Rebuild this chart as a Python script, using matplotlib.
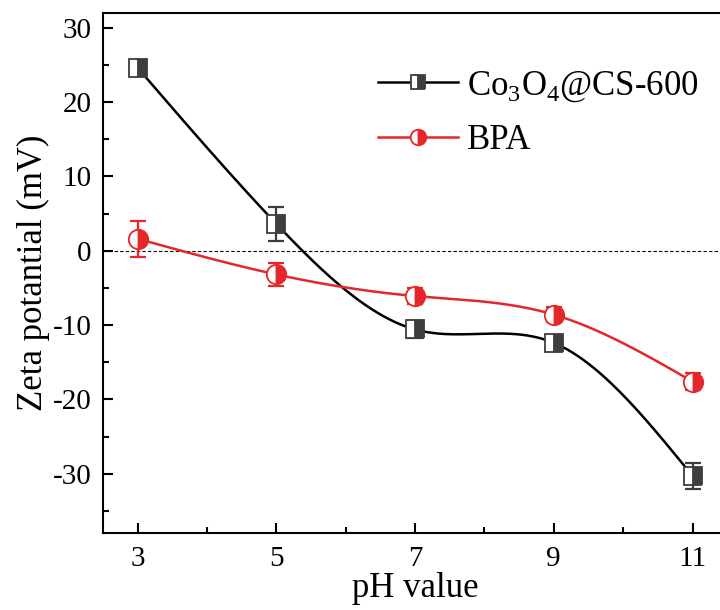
import numpy as np
import matplotlib
matplotlib.use("Agg")
import matplotlib.pyplot as plt
from matplotlib.lines import Line2D

plt.rcParams['font.family'] = ['Liberation Serif', 'DejaVu Serif']
plt.rcParams['mathtext.fontset'] = 'custom'
plt.rcParams['mathtext.rm'] = 'Liberation Serif'
plt.rcParams['axes.unicode_minus'] = False

ph = np.array([3, 5, 7, 9, 11])
co_zeta = np.array([24.6, 3.6, -10.6, -12.4, -30.3])
co_err = np.array([1.0, 2.3, 1.1, 0.8, 1.7])
bpa_zeta = np.array([1.6, -3.2, -6.1, -8.6, -17.6])
bpa_err = np.array([2.4, 1.6, 1.1, 1.0, 1.2])

labels = [r'Co$_3$O$_4$@CS-600', 'BPA']
dark = '#3d3d3d'
red = '#e5262b'


def spline(x, y, n=200):
    # natural cubic spline, like Origin's spline connector
    x = x.astype(float)
    h = np.diff(x)
    m = len(x)
    A = np.zeros((m, m))
    b = np.zeros(m)
    A[0, 0] = A[-1, -1] = 1
    for i in range(1, m - 1):
        A[i, i - 1] = h[i - 1]
        A[i, i] = 2 * (h[i - 1] + h[i])
        A[i, i + 1] = h[i]
        b[i] = 6 * ((y[i + 1] - y[i]) / h[i] - (y[i] - y[i - 1]) / h[i - 1])
    M = np.linalg.solve(A, b)
    xs = np.linspace(x[0], x[-1], n)
    k = np.clip(np.searchsorted(x, xs) - 1, 0, m - 2)
    t1 = x[k + 1] - xs
    t0 = xs - x[k]
    hk = h[k]
    ys = (M[k] * t1**3 + M[k + 1] * t0**3) / (6 * hk) \
        + (y[k] / hk - M[k] * hk / 6) * t1 + (y[k + 1] / hk - M[k + 1] * hk / 6) * t0
    return xs, ys


fig = plt.figure(figsize=(7.2, 6.1), dpi=100)
ax = fig.add_axes([0.143, 0.126, 0.867, 0.853])

ax.axhline(0, color='black', lw=0.8, ls=(0, (3, 2)), zorder=1)

series = [(co_zeta, co_err, 'black', dark, 's', 13), (bpa_zeta, bpa_err, red, red, 'o', 14)]
handles = []
for (yv, ye, lc, mc, mk, ms), lab in zip(series, labels):
    xs, ys = spline(ph, yv)
    ax.plot(xs, ys, color=lc, lw=1.8, zorder=2)
    ax.errorbar(ph, yv, yerr=ye, fmt='none', ecolor=mc, elinewidth=1.6,
                capsize=6, capthick=1.6, zorder=3)
    ax.plot(ph, yv, ls='none', marker=mk, ms=ms, mec=mc, mfc=mc,
            mfcalt='white', fillstyle='right', mew=1.3, zorder=4)
    handles.append(Line2D([], [], color=lc, lw=1.8, marker=mk, ms=ms * 0.8,
                          mec=mc, mfc=mc, mfcalt='white', fillstyle='right', mew=1.3))

ax.legend(handles, labels, loc='upper left', bbox_to_anchor=(0.39, 0.952),
          frameon=False, fontsize=25, handlelength=2.3, handletextpad=0.26,
          labelspacing=0.58)

ax.set_xlim(2.5, 11.5)
ax.set_ylim(-38, 32)
ax.set_xticks([3, 5, 7, 9, 11])
ax.set_xticks([4, 6, 8, 10], minor=True)
ax.set_yticks([-30, -20, -10, 0, 10, 20, 30])
ax.set_yticks([-35, -25, -15, -5, 5, 15, 25], minor=True)
ax.tick_params(which='both', direction='in', labelsize=21, width=1.5)
ax.tick_params(which='major', length=7)
ax.tick_params(which='minor', length=4)
ax.tick_params(axis='x', pad=9)
ax.tick_params(axis='y', pad=8)
for s in ax.spines.values():
    s.set_linewidth(1.5)

ax.set_xlabel('pH value', fontsize=25, labelpad=0)
ax.set_ylabel('Zeta potantial (mV)', fontsize=25, labelpad=2)

fig.savefig('out.png', dpi=100)
